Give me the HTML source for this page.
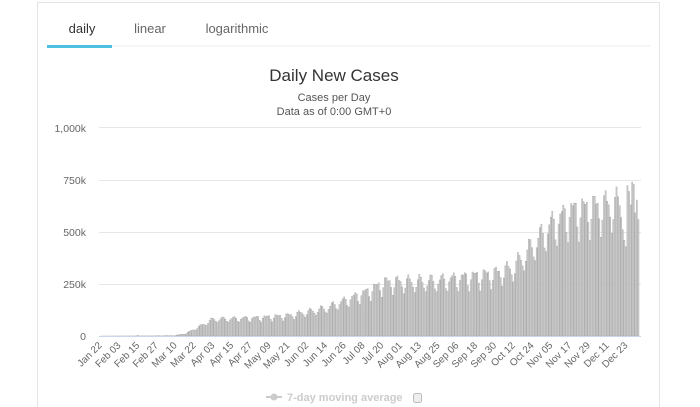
<!DOCTYPE html>
<html><head><meta charset="utf-8"><style>
html,body{margin:0;padding:0;background:#fff;width:700px;height:407px;overflow:hidden;font-family:"Liberation Sans",sans-serif}
</style></head><body>
<svg id="s" width="700" height="407" xmlns="http://www.w3.org/2000/svg" style="position:absolute;left:0;top:0">
<rect x="37.5" y="2.5" width="622" height="420" fill="#fff" stroke="#e4e4e4"/>
<text x="82" y="33" font-size="13" fill="#333" text-anchor="middle">daily</text>
<text x="150" y="33" font-size="13" fill="#666" text-anchor="middle">linear</text>
<text x="237" y="33" font-size="13" fill="#666" text-anchor="middle">logarithmic</text>
<line x1="47" y1="46" x2="650" y2="46" stroke="#eee"/>
<rect x="47" y="45" width="65" height="3" fill="#4fc1e0"/>
<text x="334" y="81" font-size="17" fill="#333" text-anchor="middle">Daily New Cases</text>
<text x="334" y="101" font-size="11" fill="#555" text-anchor="middle">Cases per Day</text>
<text x="334" y="115" font-size="11" fill="#555" text-anchor="middle">Data as of 0:00 GMT+0</text>
<g font-size="10.5" fill="#666" text-anchor="end">
<text x="86" y="132">1,000k</text><text x="86" y="184">750k</text><text x="86" y="236">500k</text><text x="86" y="288">250k</text><text x="86" y="340">0</text>
</g>
<g stroke="#e6e6e6"><line x1="99" y1="127.5" x2="641" y2="127.5"/><line x1="99" y1="180.5" x2="641" y2="180.5"/><line x1="99" y1="232.5" x2="641" y2="232.5"/><line x1="99" y1="284.5" x2="641" y2="284.5"/></g>
<g id="bars"></g>
<line x1="99" y1="336.5" x2="641" y2="336.5" stroke="#ccd6eb"/>
<g id="lab" font-size="10" fill="#666" text-anchor="end"></g>
<line x1="266" y1="397" x2="282" y2="397" stroke="#ccc" stroke-width="2"/>
<circle cx="274" cy="397" r="3.5" fill="#ccc"/>
<text x="287" y="401" font-size="11" font-weight="bold" fill="#ccc">7-day moving average</text>
<rect x="413.5" y="393.5" width="8" height="9" rx="2" fill="#eee" stroke="#bbb"/>
</svg>
<script>
var pts=[[0,0],[47,1],[55,12],[72,78],[100,85],[120,95],[144,130],[170,205],[182,250],[215,258],[252,290],[264,320],[276,420],[288,520],[300,580],[324,610],[344,630]];
function tr(d){for(var i=1;i<pts.length;i++){if(d<=pts[i][0]){var a=pts[i-1],b=pts[i];return a[1]+(b[1]-a[1])*(d-a[0])/(b[0]-a[0]);}}return 630;}
var wk=[1.08,1.12,1.1,1.05,0.9,0.8,0.95];
var h='';var x0=99.5,dx=1.565;
for(var d=0;d<345;d++){var v=tr(d)*wk[d%7]*(1+0.04*Math.sin(d*1.7));
if(d==24)v=3;
if(d==335)v=460;if(d==336)v=430;if(d==340)v=740;if(d==341)v=730;if(d==344)v=560;
var hh=v*52/250;var x=x0+d*dx;
h+='<rect x="'+x.toFixed(2)+'" y="'+(336-hh).toFixed(2)+'" width="1.15" height="'+hh.toFixed(2)+'" fill="#d3d3d3" stroke="#999" stroke-width="0.35"/>';}
document.getElementById('bars').innerHTML=h;
var L=["Jan 22","Feb 03","Feb 15","Feb 27","Mar 10","Mar 22","Apr 03","Apr 15","Apr 27","May 09","May 21","Jun 02","Jun 14","Jun 26","Jul 08","Jul 20","Aug 01","Aug 13","Aug 25","Sep 06","Sep 18","Sep 30","Oct 12","Oct 24","Nov 05","Nov 17","Nov 29","Dec 11","Dec 23"];
var t='';for(var i=0;i<L.length;i++){var x=x0+i*12*dx+3;t+='<text transform="translate('+x.toFixed(1)+',346) rotate(-45)">'+L[i]+'</text>';}
document.getElementById('lab').innerHTML=t;
</script>
</body></html>
